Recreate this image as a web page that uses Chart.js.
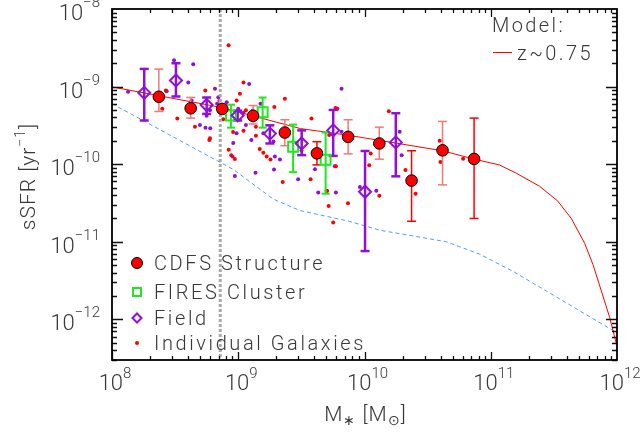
<!DOCTYPE html>
<html><head><meta charset="utf-8">
<script src="https://cdn.jsdelivr.net/npm/chart.js@4/dist/chart.umd.min.js"></script>
<style>html,body{margin:0;padding:0;background:#fff}</style>
</head><body>
<canvas id="c" width="643" height="434"></canvas>
<script>
// ---------------- data ----------------
const xTickExps = [8, 9, 10, 11, 12];
const yTickExps = [-8, -9, -10, -11, -12];
const legendLabels = ['CDFS Structure', 'FIRES Cluster', 'Field', 'Individual Galaxies'];
const modelLabel = 'z~0.75';

const cdfsMass = [2.35e8, 4.2e8, 7.47e8, 1.31e9, 2.34e9, 4.2e9, 7.42e9, 1.31e10, 2.36e10, 4.15e10, 7.38e10];
const cdfsSSFR = [7.4e-10, 5.26e-10, 5.16e-10, 4.2e-10, 2.56e-10, 1.38e-10, 2.25e-10, 1.85e-10, 6.15e-11, 1.51e-10, 1.17e-10];
const cdfsLow  = [4.78e-10, 3.92e-10, 4.6e-10, 3.3e-10, 1.73e-10, 9.8e-11, 1.36e-10, 1.16e-10, 1.84e-11, 5.42e-11, 2.0e-11];
const cdfsHigh = [1.68e-9, 7.25e-10, 5.8e-10, 5.7e-10, 3.74e-10, 1.95e-10, 3.74e-10, 3.0e-10, 1.49e-10, 3.56e-10, 3.93e-10];

const firesMass = [8.75e8, 1.56e9, 2.72e9, 4.92e9];
const firesSSFR = [4.25e-10, 4.68e-10, 1.68e-10, 1.14e-10];
const firesLow  = [2.96e-10, 2.96e-10, 7.9e-11, 4.17e-11];
const firesHigh = [5.85e-10, 7.24e-10, 3.24e-10, 2.56e-10];

const fieldMass = [1.8e8, 3.21e8, 5.62e8, 9.89e8, 1.78e9, 3.18e9, 5.65e9, 1.01e10, 1.77e10];
const fieldSSFR = [8.32e-10, 1.2e-9, 5.8e-10, 4.25e-10, 2.48e-10, 1.85e-10, 2.73e-10, 4.42e-11, 1.91e-10];
const fieldLow  = [3.66e-10, 7.46e-10, 4.45e-10, 3.66e-10, 1.85e-10, 1.31e-10, 1.28e-10, 7.6e-12, 6.98e-11];
const fieldHigh = [1.69e-9, 2.0e-9, 7.24e-10, 4.9e-10, 3.17e-10, 2.73e-10, 5.0e-10, 1.48e-10, 4.54e-10];

const galRedMass = [8.38e8, 1.1e9, 2.67e8, 2.5e8, 3.29e8, 5.48e8, 5.97e8, 5.9e8, 4.54e8, 1.03e9,
  9.7e8, 2.34e9, 1.93e9, 1.38e9, 1.38e9, 8.4e8, 8.8e8, 9.4e8, 1.48e9, 1.68e9,
  1.8e9, 2.25e9, 3.74e9, 3.8e9, 5.9e9, 6.1e9, 5.93e9, 3.17e9, 7.1e8, 7.8e8,
  9.1e8, 1.1e9, 1.15e9, 7.6e8, 1.3e9, 1.58e9, 1.12e10, 1.09e10, 1.31e10, 1.56e10,
  2.11e10, 2.54e10, 3.94e10, 4.0e10, 6.04e10, 7.4e9, 5.65e9, 5.2e9, 5.06e9, 5.25e9];
const galRedSSFR = [3.42e-9, 1.13e-9, 8.9e-10, 5.2e-10, 3.89e-10, 8.9e-10, 2.16e-10, 2.05e-10, 3.04e-10, 8.07e-10,
  6.64e-10, 7.0e-10, 5.46e-10, 3.04e-10, 2.32e-10, 1.54e-10, 1.3e-10, 1.17e-10, 1.57e-10, 1.26e-10,
  1.15e-10, 5.9e-11, 6.4e-11, 3.89e-10, 5.3e-10, 5.2e-10, 9.44e-11, 1.5e-10, 6.64e-10, 5.46e-10,
  2.6e-10, 2.7e-10, 4.95e-10, 3.8e-10, 4.9e-10, 1.4e-10, 1.37e-10, 9.7e-11, 3.92e-11, 4.8e-10,
  8.4e-11, 4.16e-11, 2.0e-10, 1.07e-10, 1.18e-10, 3.14e-11, 1.77e-11, 2.9e-11, 4.5e-11, 2.38e-10];

const galPurMass = [1.34e8, 3.1e8, 4.4e8, 4.02e8, 2.71e8, 4.27e8, 4.97e8, 5.5e8, 6.0e8, 6.54e8,
  6.95e8, 6.8e8, 5.97e8, 5.62e8, 1.22e9, 1.5e9, 1.58e9, 9.13e8, 9.0e8, 9.4e8,
  1.15e9, 1.9e9, 1.95e9, 2.14e9, 1.37e9, 1.92e9, 2.98e9, 6.58e9, 4.3e9, 5.0e9,
  5.93e9, 8.1e8, 1.0e9, 1.1e9, 1.27e9, 9.7e8, 7.1e8, 1.9e10, 1.97e10, 1.24e10,
  9.2e9, 5.82e9, 4.05e9, 6.58e9];
const galPurSSFR = [8.6e-10, 2.18e-9, 1.94e-9, 1.13e-9, 8.7e-10, 6.64e-10, 3.19e-10, 2.95e-10, 2.9e-10, 9.35e-10,
  7.31e-10, 6.03e-10, 4.95e-10, 4.2e-10, 1.08e-9, 6.03e-10, 2.5e-10, 1.87e-10, 1.26e-10, 7.05e-11,
  3.19e-10, 1.96e-10, 1.26e-10, 1.15e-10, 7.78e-11, 8.57e-11, 6.4e-11, 9.35e-10, 4.33e-11, 4.54e-11,
  4.33e-11, 6.3e-10, 5.2e-10, 4.6e-10, 2.05e-10, 2.5e-10, 4.95e-10, 2.62e-10, 1.3e-10, 4.54e-11,
  5.1e-11, 9.4e-11, 8.6e-11, 2.62e-10];

const modelMass = [1e8, 7.4e8, 3.1e9, 7.35e9, 4.15e10, 7.43e10, 1.17e11, 1.58e11, 2.43e11, 3.39e11,
  4.36e11, 5.55e11, 6.46e11, 7.52e11, 8.75e11, 9.29e11, 9.89e11];
const modelSSFR = [9.91e-10, 5.37e-10, 2.88e-10, 2.37e-10, 1.49e-10, 1.16e-10, 9.8e-11, 7.71e-11, 5.21e-11, 3.36e-11,
  1.98e-11, 9.55e-12, 5.06e-12, 2.32e-12, 1.06e-12, 7.21e-13, 4.86e-13];

const limitMass = [1e8, 9.12e8, 1.89e9, 3.08e9, 7.66e9, 1.32e10, 2.43e10, 4.46e10, 8.18e10, 1.50e11,
  2.76e11, 5.07e11, 9.29e11, 1e12];
const limitSSFR = [6.03e-10, 8.57e-11, 3.56e-11, 2.53e-11, 1.83e-11, 1.41e-11, 1.19e-11, 1.0e-11, 6.92e-12, 4.17e-12,
  2.32e-12, 1.29e-12, 7.21e-13, 6.61e-13];

const massCut = [7.2e8];

// ---------------- styles ----------------
const RED = '#ff0000', SALMON = '#f47878', GREEN = '#1ee81e', PURPLE = '#9010d8', BLUE = '#5a9af5', TXT = '#383838';
const cdfsErrShade = [SALMON, SALMON, RED, SALMON, SALMON, RED, SALMON, SALMON, RED, SALMON, RED];
const FONT = '"Roboto","Liberation Sans",sans-serif';

const zip = (xs, ys) => xs.map((v, i) => ({x: v, y: ys[i]}));
const datasets = [];

datasets.push({label: 'gal-red', data: zip(galRedMass, galRedSSFR), pointRadius: 2, pointBackgroundColor: RED, pointBorderWidth: 0, order: 50});
datasets.push({label: 'gal-pur', data: zip(galPurMass, galPurSSFR), pointRadius: 2, pointBackgroundColor: PURPLE, pointBorderWidth: 0, order: 51});
datasets.push({label: 'cut', data: [{x: massCut[0], y: 1e-8}, {x: massCut[0], y: 3.3e-13}], showLine: true, pointRadius: 0,
  borderColor: '#a8a8a8', borderWidth: 3, borderDash: [3, 2], order: 45});
datasets.push({label: 'model', data: zip(modelMass, modelSSFR), showLine: true, pointRadius: 0, borderColor: RED, borderWidth: 1, order: 40});
datasets.push({label: 'limit', data: zip(limitMass, limitSSFR), showLine: true, pointRadius: 0, borderColor: BLUE, borderWidth: 1, borderDash: [4, 3], order: 41});

function errBars(mass, lo, hi, colors, width, cap, order) {
  mass.forEach((m, i) => {
    const c = Array.isArray(colors) ? colors[i] : colors;
    datasets.push({label: 'err', data: [{x: m, y: lo[i]}, {x: m, y: hi[i]}], showLine: true, borderColor: c, borderWidth: width,
      pointStyle: 'line', pointRadius: cap, pointBorderColor: c, pointBorderWidth: width, order});
  });
}
errBars(cdfsMass, cdfsLow, cdfsHigh, cdfsErrShade, 1.5, 4.5, 20);
errBars(firesMass, firesLow, firesHigh, GREEN, 2, 4, 21);
errBars(fieldMass, fieldLow, fieldHigh, PURPLE, 2.5, 4.5, 22);

datasets.push({label: 'fires', data: zip(firesMass, firesSSFR), pointStyle: 'rect', pointRadius: 7, pointBackgroundColor: 'rgba(0,0,0,0)',
  pointBorderColor: GREEN, pointBorderWidth: 2, order: 10});
datasets.push({label: 'field', data: zip(fieldMass, fieldSSFR), pointStyle: 'rectRot', pointRadius: 6, pointBackgroundColor: 'rgba(0,0,0,0)',
  pointBorderColor: PURPLE, pointBorderWidth: 2, order: 9});
datasets.push({label: 'cdfs', data: zip(cdfsMass, cdfsSSFR), pointStyle: 'circle', pointRadius: 5.8, pointBackgroundColor: RED,
  pointBorderColor: '#000', pointBorderWidth: 1, order: 5});

// ---------------- text helpers ----------------
function runs(ctx, parts, x, y, align) {
  let w = 0;
  parts.forEach(p => { ctx.font = p.f; p.w = ctx.measureText(p.t).width; w += p.w; });
  let cx = align === 'right' ? x - w : align === 'center' ? x - w / 2 : x;
  parts.forEach(p => { ctx.font = p.f; ctx.fillText(p.t, cx, y + (p.dy || 0)); cx += p.w; });
}
const sup = n => String(n).replace('-', '\u2212');

const decorPlugin = {
  id: 'decor',
  afterDatasetsDraw(chart) {
    const {ctx, chartArea: a, scales: {x, y}} = chart;
    ctx.save();
    ctx.strokeStyle = '#111';
    ctx.lineWidth = 1.3;
    for (let e = 8; e < 12; e++) for (let k = 1; k <= 9; k++) {
      const v = k * Math.pow(10, e); if (v < x.min || v > x.max) continue;
      const px = Math.round(x.getPixelForValue(v)) + 0.5, L = k === 1 ? 8 : 4;
      ctx.beginPath(); ctx.moveTo(px, a.bottom); ctx.lineTo(px, a.bottom - L); ctx.moveTo(px, a.top); ctx.lineTo(px, a.top + L); ctx.stroke();
    }
    for (let e = -13; e < -8; e++) for (let k = 1; k <= 9; k++) {
      const v = k * Math.pow(10, e); if (v < y.min || v > y.max) continue;
      const py = Math.round(y.getPixelForValue(v)) + 0.5, L = k === 1 ? 11 : 5;
      ctx.beginPath(); ctx.moveTo(a.left, py); ctx.lineTo(a.left + L, py); ctx.moveTo(a.right, py); ctx.lineTo(a.right - L, py); ctx.stroke();
    }
    ctx.lineWidth = 1.8;
    ctx.strokeStyle = '#000';
    ctx.strokeRect(a.left, a.top, a.right - a.left, a.bottom - a.top);

    ctx.fillStyle = TXT;
    ctx.textBaseline = 'alphabetic';
    const big = '300 22px ' + FONT, small = '300 15px ' + FONT;
    xTickExps.forEach(e => {
      const px = x.getPixelForValue(Math.pow(10, e));
      runs(ctx, [{t: '10', f: big}, {t: sup(e), f: small, dy: -12}], px + 3, 390, 'center');
    });
    yTickExps.forEach(e => {
      const py = y.getPixelForValue(Math.pow(10, e));
      runs(ctx, [{t: '10', f: big}, {t: sup(e), f: small, dy: -13}], 100, py + 11, 'right');
    });

    ctx.letterSpacing = '1px';
    const tf = '300 21px ' + FONT, tfs = '300 14px ' + FONT;
    runs(ctx, [{t: 'M', f: tf}, {t: '\u2217', f: tfs, dy: 4}, {t: ' [M', f: tf}, {t: '\u2299', f: tfs, dy: 4}, {t: ']', f: tf}], (a.left + a.right) / 2 + 1, 421, 'center');
    ctx.save();
    ctx.translate(35, (a.top + a.bottom) / 2 - 8);
    ctx.rotate(-Math.PI / 2);
    runs(ctx, [{t: 'sSFR [yr', f: tf}, {t: '\u22121', f: tfs, dy: -10}, {t: ']', f: tf}], 0, 0, 'center');
    ctx.restore();

    ctx.letterSpacing = '2.6px';
    const lf = '300 20px ' + FONT;
    ctx.font = lf;
    const lx = 137, rows = [263, 292, 318, 343];
    legendLabels.forEach((t, i) => { ctx.fillStyle = TXT; ctx.fillText(t, 154, rows[i] + 7); });
    ctx.lineWidth = 1; ctx.strokeStyle = '#000'; ctx.fillStyle = RED;
    ctx.beginPath(); ctx.arc(lx, rows[0], 5.5, 0, Math.PI * 2); ctx.fill(); ctx.stroke();
    ctx.lineWidth = 2; ctx.strokeStyle = GREEN; ctx.strokeRect(lx - 4, rows[1] - 4, 8, 8);
    ctx.strokeStyle = PURPLE; ctx.beginPath(); ctx.moveTo(lx, rows[2] - 4.5); ctx.lineTo(lx + 4.5, rows[2]); ctx.lineTo(lx, rows[2] + 4.5); ctx.lineTo(lx - 4.5, rows[2]); ctx.closePath(); ctx.stroke();
    ctx.fillStyle = RED; ctx.beginPath(); ctx.arc(lx, rows[3], 2, 0, Math.PI * 2); ctx.fill();

    ctx.letterSpacing = '2.4px';
    ctx.fillStyle = TXT;
    ctx.fillText('Model:', 492, 32);
    ctx.fillText(modelLabel, 517, 60);
    ctx.strokeStyle = RED; ctx.lineWidth = 1;
    ctx.beginPath(); ctx.moveTo(493, 52.5); ctx.lineTo(512, 52.5); ctx.stroke();
    ctx.restore();
  }
};

new Chart(document.getElementById('c'), {
  type: 'scatter',
  data: {datasets},
  options: {
    responsive: false,
    animation: false,
    events: [],
    layout: {padding: {left: 112, right: 26, top: 7, bottom: 74}},
    plugins: {legend: {display: false}, tooltip: {enabled: false}},
    scales: {
      x: {type: 'logarithmic', min: 1e8, max: 1e12, ticks: {display: false}, grid: {display: false, drawTicks: false}, border: {display: false},
          afterFit: s => { s.height = 0; }},
      y: {type: 'logarithmic', min: 3.3e-13, max: 1e-8, ticks: {display: false}, grid: {display: false, drawTicks: false}, border: {display: false},
          afterFit: s => { s.width = 0; }}
    }
  },
  plugins: [decorPlugin]
});
</script>
</body></html>
